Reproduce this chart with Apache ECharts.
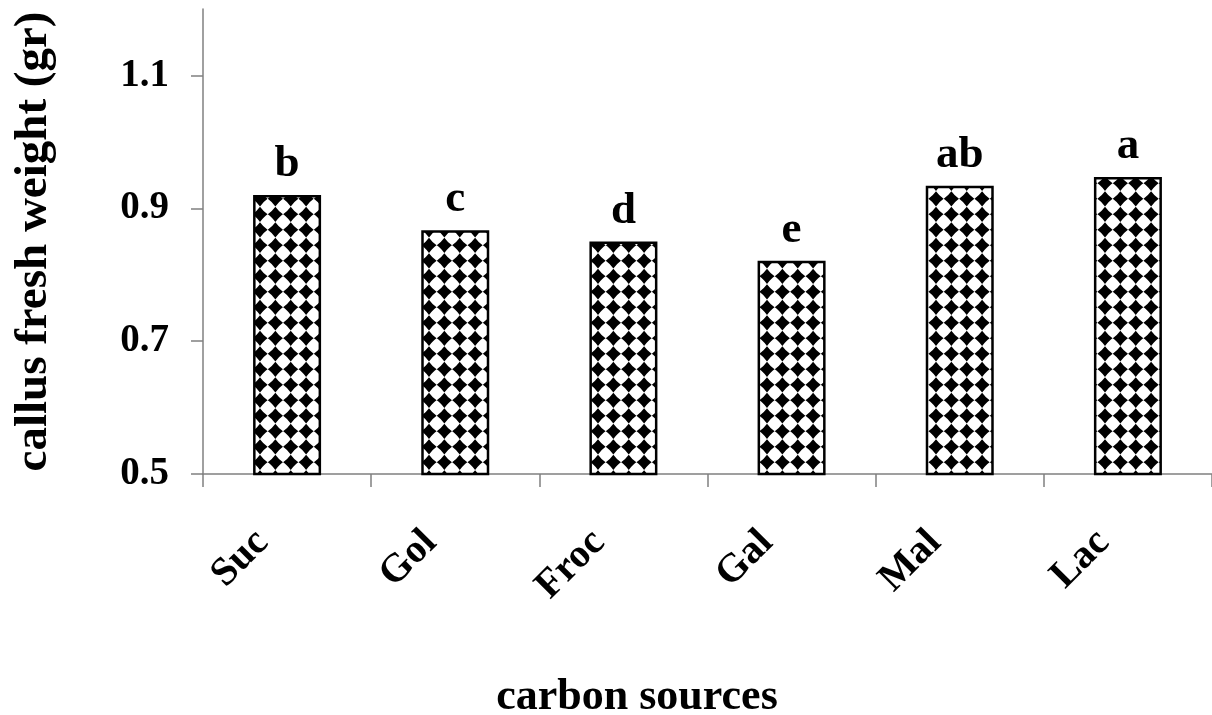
<!DOCTYPE html>
<html><head><meta charset="utf-8">
<script src="https://cdn.jsdelivr.net/npm/echarts@6/dist/echarts.min.js"></script>
<style>html,body{margin:0;padding:0;background:#fff}#c{width:1212px;height:715px}</style>
</head><body><div id="c"></div>
<script>
const categories = ['Suc', 'Gol', 'Froc', 'Gal', 'Mal', 'Lac'];
const freshWeight = [0.920, 0.867, 0.850, 0.821, 0.934, 0.947];
const groupLetters = ['b', 'c', 'd', 'e', 'ab', 'a'];
const yTickValues = [0.5, 0.7, 0.9, 1.1];
const yAxisTitle = 'callus fresh weight (gr)';
const xAxisTitle = 'carbon sources';

const FONT = "'Liberation Serif','Times New Roman',serif";

function makePattern() {
  const W = 169, H = 31;
  const c = document.createElement('canvas');
  c.width = W; c.height = H;
  const g = c.getContext('2d');
  g.fillStyle = '#fff';
  g.fillRect(0, 0, W, H);
  g.fillStyle = '#000';
  const sx = W / 11, sy = 15.5, x0 = 91, y0 = 12.8;
  const r = 7.6, k = 0.42 * r;
  for (let i = -14; i <= 14; i++) {
    const cx = x0 + i * sx;
    if (cx < -10 || cx > W + 10) continue;
    for (let j = -1; j <= 2; j++) {
      const cy = y0 + j * sy;
      g.beginPath();
      g.moveTo(cx, cy - r);
      g.quadraticCurveTo(cx + k, cy - k, cx + r, cy);
      g.quadraticCurveTo(cx + k, cy + k, cx, cy + r);
      g.quadraticCurveTo(cx - k, cy + k, cx - r, cy);
      g.quadraticCurveTo(cx - k, cy - k, cx, cy - r);
      g.closePath();
      g.fill();
    }
  }
  return c;
}

const chart = echarts.init(document.getElementById('c'), null, { renderer: 'canvas' });
const axisGray = '#808080';

chart.setOption({
  backgroundColor: '#fff',
  animation: false,
  grid: { left: 203, top: 9, width: 1015, height: 465, containLabel: false },
  xAxis: {
    type: 'category',
    data: categories,
    axisLine: { lineStyle: { color: axisGray, width: 1.5 } },
    axisTick: { show: true, length: 13, lineStyle: { color: axisGray, width: 1.5 } },
    axisLabel: {
      interval: 0, rotate: 45, margin: 38,
      padding: [0, 35, 0, 0],
      fontFamily: FONT, fontWeight: 'bold', fontSize: 40, color: '#000'
    },
    splitLine: { show: false }
  },
  yAxis: {
    type: 'value',
    min: 0.5, max: 1.2,
    name: yAxisTitle,
    nameLocation: 'middle',
    nameGap: 146,
    nameTextStyle: { fontFamily: FONT, fontWeight: 'bold', fontSize: 47, color: '#000' },
    axisLine: { show: true, lineStyle: { color: axisGray, width: 1.5 } },
    axisTick: { show: true, length: 12, customValues: yTickValues, lineStyle: { color: axisGray, width: 1.5 } },
    axisLabel: {
      customValues: yTickValues,
      margin: 34,
      formatter: v => v.toFixed(1),
      fontFamily: FONT, fontWeight: 'bold', fontSize: 39, color: '#000'
    },
    splitLine: { show: false }
  },
  graphic: [{
    type: 'text',
    x: 637, y: 698,
    style: {
      text: xAxisTitle,
      font: "bold 44px 'Liberation Serif','Times New Roman',serif",
      fill: '#000',
      textAlign: 'center',
      textVerticalAlign: 'middle'
    }
  }],
  series: [{
    type: 'bar',
    data: freshWeight,
    barWidth: 68,
    itemStyle: {
      color: { image: makePattern(), repeat: 'repeat' },
      borderColor: '#000',
      borderWidth: 2.5
    },
    label: {
      show: true,
      position: 'top',
      distance: 8,
      formatter: p => groupLetters[p.dataIndex],
      fontFamily: FONT, fontWeight: 'bold', fontSize: 45, color: '#000'
    }
  }]
});
</script>
</body></html>
